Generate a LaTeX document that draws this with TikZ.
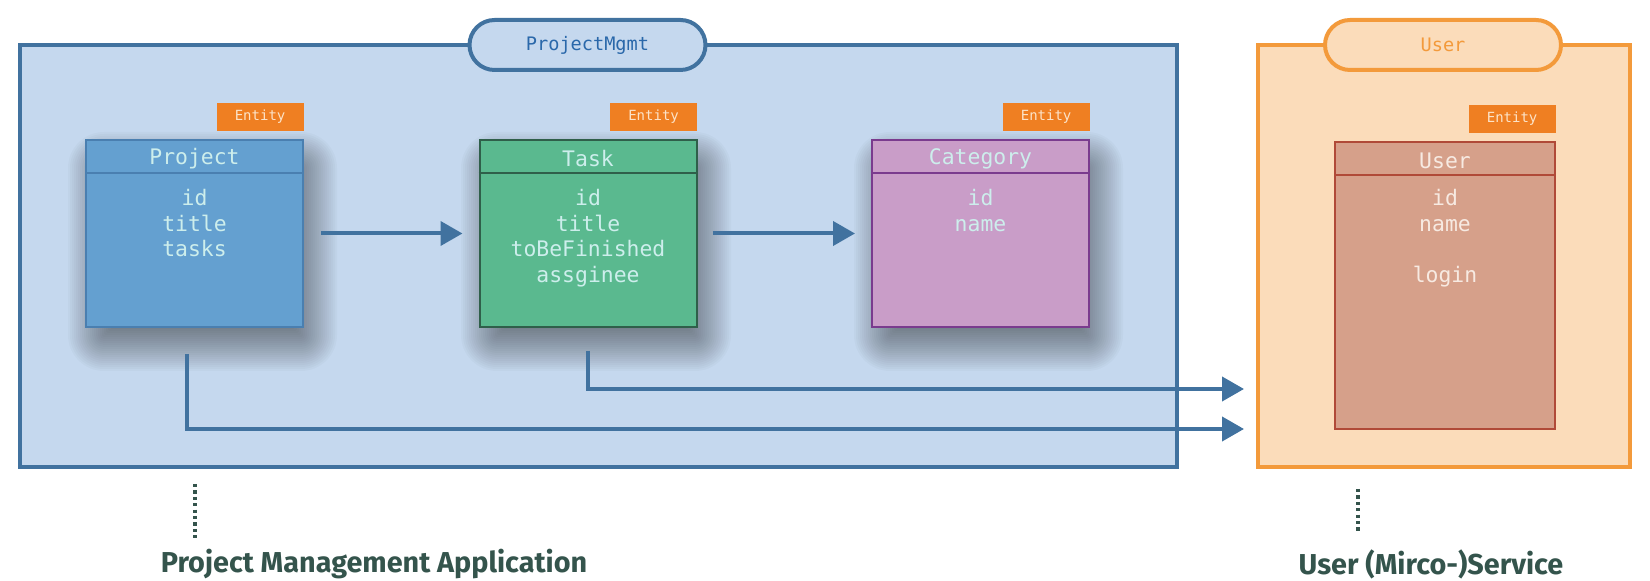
\documentclass[tikz,border=0pt]{standalone}
\usepackage{fontspec}
\setmonofont{DejaVu Sans Mono}
\setsansfont{Fira Sans}
\usetikzlibrary{positioning,arrows.meta}

\definecolor{pmfill}{HTML}{C5D8EE}
\definecolor{pmline}{HTML}{41729F}
\definecolor{pmtext}{HTML}{2A68AA}
\definecolor{usfill}{HTML}{FBDCBA}
\definecolor{usline}{HTML}{F39A3B}
\definecolor{tagorange}{HTML}{EF7F22}
\definecolor{taglight}{HTML}{FCE3C8}
\definecolor{projfill}{HTML}{64A0D0}
\definecolor{projline}{HTML}{4A7FB0}
\definecolor{taskfill}{HTML}{5AB98F}
\definecolor{taskline}{HTML}{2F5F4A}
\definecolor{catfill}{HTML}{C99DC8}
\definecolor{catline}{HTML}{7A3B8E}
\definecolor{userfill}{HTML}{D6A08A}
\definecolor{userline}{HTML}{B04A38}
\definecolor{celltext}{HTML}{CDEEEC}
\definecolor{usertext}{HTML}{F7EAE2}
\definecolor{captiongreen}{HTML}{34544C}

\tikzset{
  container/.style={draw, line width=2pt, minimum height=211pt, inner sep=0pt},
  pill/.style={draw, line width=2pt, rounded corners=12.5pt, minimum width=118pt, minimum height=25pt, font=\ttfamily\fontsize{9.3}{11}\selectfont},
  entitytag/.style={fill=tagorange, text=taglight, minimum width=43.5pt, minimum height=14pt, inner sep=0pt, font=\ttfamily\fontsize{7}{8}\selectfont},
  entbox/.style={draw, line width=1pt, minimum width=108.5pt, minimum height=93.5pt, inner sep=0pt},
  shadowring/.style={fill=black!85!gray, opacity=0.024},
  boxhead/.style={font=\ttfamily\fontsize{10.7}{12}\selectfont, inner sep=0pt},
  boxbody/.style={font=\ttfamily\fontsize{10.7}{12.75}\selectfont, align=center, inner sep=0pt, anchor=north},
  link/.style={draw=pmline, line width=2pt, -{Triangle[length=11pt,width=12pt]}},
  caption/.style={font=\sffamily\bfseries\fontsize{14.4}{17}\selectfont, text=captiongreen},
  dots/.style={draw=captiongreen, line width=1.6pt, dash pattern=on 1.6pt off 1.6pt}
}

\begin{document}
\begin{tikzpicture}[x=0.5pt,y=-0.5pt]
\useasboundingbox[fill=white] (0,0) rectangle (1650,581);

% containers
\node[container, fill=pmfill, draw=pmline, minimum width=578.5pt] (pmbox) at (598.5,256) {};
\node[container, fill=usfill, draw=usline, minimum width=186pt] (usbox) at (1444,256) {};
\node[pill, fill=pmfill, draw=pmline, text=pmtext] (pmpill) at (587.5,45) {ProjectMgmt};
\node[pill, fill=usfill, draw=usline, text=usline] (uspill) at (1443,45) {User};

% soft shadows under the entities
\coordinate (projectsw) at (86,327);   \coordinate (projectne) at (303,140);
\coordinate (tasksw) at (479,327);     \coordinate (taskne) at (697,140);
\coordinate (categorysw) at (872,327); \coordinate (categoryne) at (1089,140);
\foreach \ent in {project,task,category}{
  \foreach \k in {1,...,22}{
    \pgfmathsetmacro\grow{(\k-9)*1.0}
    \pgfmathsetmacro\rad{max(1,\grow+5)}
    \fill[shadowring, rounded corners=\rad pt] ([xshift=4pt-\grow pt, yshift=-9pt-\grow pt]\ent sw) rectangle ([xshift=4pt+\grow pt, yshift=-9pt+\grow pt]\ent ne);
  }
}

% entities
\node[entbox, fill=projfill, draw=projline] (project) at (194.5,233.5) {};
\node[entbox, fill=taskfill, draw=taskline] (task) at (588,233.5) {};
\node[entbox, fill=catfill, draw=catline] (category) at (980.5,233.5) {};
\node[entbox, fill=userfill, draw=userline, minimum width=110pt, minimum height=143.5pt] (user) at (1445,285.5) {};

\foreach \ent/\col in {project/projline, task/taskline, category/catline, user/userline}{
  \draw[\col, line width=1pt] ([yshift=-17pt]\ent.north west) -- ([yshift=-17pt]\ent.north east);
  \node[entitytag, anchor=south east] (\ent tag) at ([yshift=4pt]\ent.north east) {Entity};
}
\node[boxhead, text=celltext] (projecthead) at ([yshift=-10pt]project.north) {Project};
\node[boxhead, text=celltext] (taskhead) at ([yshift=-10pt]task.north) {Task};
\node[boxhead, text=celltext] (categoryhead) at ([yshift=-10pt]category.north) {Category};
\node[boxhead, text=usertext] (userhead) at ([yshift=-10pt]user.north) {User};

\node[boxbody, text=celltext] (projectbody) at ([yshift=-25pt]project.north) {id\\title\\tasks};
\node[boxbody, text=celltext] (taskbody) at ([yshift=-25pt]task.north) {id\\title\\toBeFinished\\assginee};
\node[boxbody, text=celltext] (categorybody) at ([yshift=-25pt]category.north) {id\\name};
\node[boxbody, text=usertext] (userbody) at ([yshift=-24pt]user.north) {id\\name\\[12.75pt]login};

% references
\coordinate (taskend) at (1244,389);
\coordinate (projectend) at (1244,429);
\draw[link, shorten <=8.5pt, shorten >=8pt] (project) -- (task);
\draw[link, shorten <=7.5pt, shorten >=8pt] (task) -- (category);
\draw[link, shorten <=11.5pt] (task.south) |- (taskend);
\draw[link, shorten <=13pt] ([xshift=-4pt]project.south) |- (projectend);

% captions
\node[caption] (pmcap) at (374,564) {Project Management Application};
\node[caption] (uscap) at (1431,564) {User (Mirco-)Service};
\coordinate (pmdot) at (195,484);
\coordinate (usdot) at (1358,489);
\draw[dots] (pmdot) -- ++(0,55);
\draw[dots] (usdot) -- ++(0,44);
\end{tikzpicture}
\end{document}
